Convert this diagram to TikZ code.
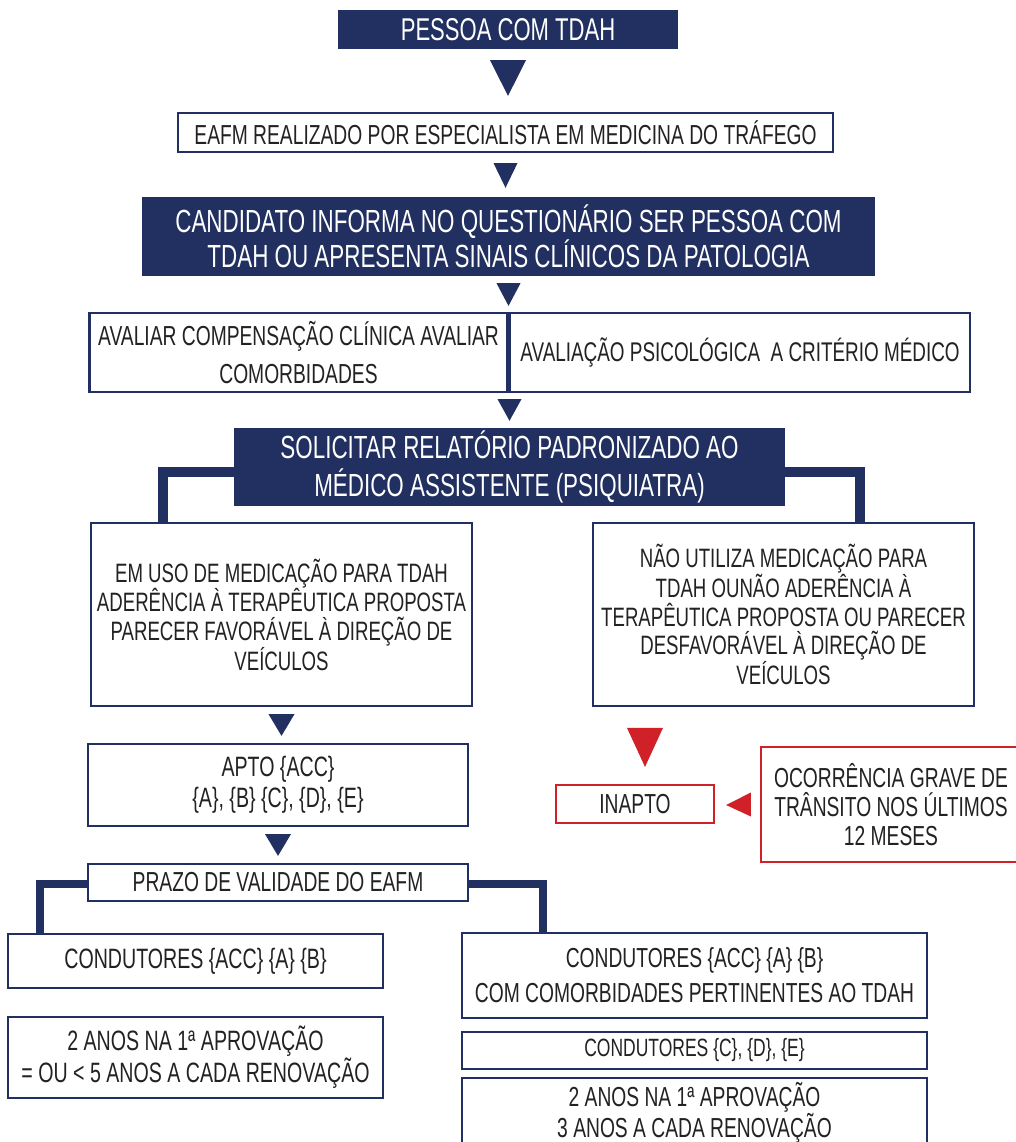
\documentclass[tikz,border=0pt]{standalone}
\usepackage{fontspec}
\setmainfont{Liberation Sans}[FakeStretch=0.70]
\usetikzlibrary{calc,positioning}
\definecolor{navy}{RGB}{33,48,96}
\definecolor{alert}{RGB}{208,32,40}
\definecolor{ink}{RGB}{34,34,34}
\tikzset{
  sz/.style 2 args={minimum width=#1pt,minimum height=#2pt},
  whitebox/.style={draw=navy,line width=2.2pt,fill=white,text=ink,inner sep=0pt,align=center,font=\fontsize{27.5}{28.5}\selectfont},
  navybox/.style={fill=navy,text=white,inner sep=0pt,align=center},
  redbox/.style={whitebox,draw=alert},
  bracket/.style={navy,line width=10pt,line join=miter}
}
\begin{document}
\begin{tikzpicture}[x=1pt,y=-1pt]
\useasboundingbox[fill=white] (0,0) rectangle (1015,1142);
\node[navybox,sz={340}{39},font=\fontsize{31.5}{33}\selectfont] (pessoa) at (508,29.5) {PESSOA COM TDAH};
\node[whitebox,sz={655}{39}] (eafm) at (505.5,132.5) {EAFM REALIZADO POR ESPECIALISTA EM MEDICINA DO TRÁFEGO};
\node[navybox,sz={733}{79},font=\fontsize{32}{33}\selectfont] (candidato) at (508.5,236.5) {CANDIDATO INFORMA NO QUESTIONÁRIO SER PESSOA COM\\TDAH OU APRESENTA SINAIS CLÍNICOS DA PATOLOGIA};
\node[whitebox,sz={418}{79},font=\fontsize{27.5}{38}\selectfont] (aval) at (298.5,352.5) {AVALIAR COMPENSAÇÃO CLÍNICA AVALIAR\\COMORBIDADES};
\node[whitebox,sz={460}{79},font=\fontsize{27}{28.5}\selectfont] (psico) at (740,352.5) {AVALIAÇÃO PSICOLÓGICA\ \ A CRITÉRIO MÉDICO};
\node[navybox,sz={551}{78},font=\fontsize{32}{38}\selectfont] (solicitar) at (509.5,467) {SOLICITAR RELATÓRIO PADRONIZADO AO\\MÉDICO ASSISTENTE (PSIQUIATRA)};
\node[whitebox,sz={381}{183},font=\fontsize{26.6}{28.5}\selectfont] (emuso) at (281.5,614.5) {EM USO DE MEDICAÇÃO PARA TDAH\\ADERÊNCIA À TERAPÊUTICA PROPOSTA\\PARECER FAVORÁVEL À DIREÇÃO DE\\VEÍCULOS};
\node[whitebox,sz={381}{183},font=\fontsize{26.6}{28.5}\selectfont] (nao) at (783.5,614.5) {NÃO UTILIZA MEDICAÇÃO PARA\\TDAH OUNÃO ADERÊNCIA À\\TERAPÊUTICA PROPOSTA OU PARECER\\DESFAVORÁVEL À DIREÇÃO DE\\VEÍCULOS};
\node[whitebox,sz={380}{82},font=\fontsize{28}{31}\selectfont] (apto) at (278,785) {APTO \{ACC\}\\\{A\}, \{B\} \{C\}, \{D\}, \{E\}};
\node[redbox,sz={158}{38}] (inapto) at (635,804) {INAPTO};
\node[redbox,sz={260}{115},font=\fontsize{27.5}{29}\selectfont] (ocorr) at (891,804.5) {OCORRÊNCIA GRAVE DE\\TRÂNSITO NOS ÚLTIMOS\\12 MESES};
\node[whitebox,sz={380}{37}] (prazo) at (278,882.5) {PRAZO DE VALIDADE DO EAFM};
\node[whitebox,sz={375}{54},font=\fontsize{28}{30}\selectfont] (condl) at (195.5,961) {CONDUTORES \{ACC\} \{A\} \{B\}};
\node[whitebox,sz={375}{81},font=\fontsize{28}{32}\selectfont] (anosl) at (195.5,1057.5) {2 ANOS NA 1ª APROVAÇÃO\\= OU < 5 ANOS A CADA RENOVAÇÃO};
\node[whitebox,sz={465}{85},font=\fontsize{27.5}{35}\selectfont] (condr) at (694.5,975.5) {CONDUTORES \{ACC\} \{A\} \{B\}\\COM COMORBIDADES PERTINENTES AO TDAH};
\node[whitebox,sz={465}{37},font=\fontsize{25}{27}\selectfont] (cde) at (694.5,1050.5) {CONDUTORES \{C\}, \{D\}, \{E\}};
\node[whitebox,sz={465}{70},font=\fontsize{27.5}{31}\selectfont] (anosr) at (694.5,1113) {2 ANOS NA 1ª APROVAÇÃO\\3 ANOS A CADA RENOVAÇÃO};
\coordinate (sl) at (163,0);
\coordinate (sr) at (860,0);
\coordinate (pl) at (40,0);
\coordinate (pr) at (543,0);
\draw[bracket] ([yshift=-5pt]solicitar.west) -| (emuso.north -| sl);
\draw[bracket] ([yshift=-5pt]solicitar.east) -| (nao.north -| sr);
\draw[bracket,line width=8pt] ([yshift=-1.5pt]prazo.west) -| (condl.north -| pl);
\draw[bracket,line width=8pt] ([yshift=-1.5pt]prazo.east) -| (condr.north -| pr);
\foreach \a/\b/\w/\t/\h in {pessoa/eafm/18/11/16,eafm/candidato/12/10/9,candidato/aval/12/7/6,emuso/apto/13/7/7,apto/prazo/13/7/7}
{\fill[navy] ($(\a.south)+(-\w,\t)$) -- ($(\a.south)+(\w,\t)$) -- ($(\a.south |- \b.north)+(0,-\h)$) -- cycle;}
\fill[navy] ($(solicitar.north |- aval.south)+(-12,6)$) -- ($(solicitar.north |- aval.south)+(12,6)$) -- ($(solicitar.north)+(0,-7)$) -- cycle;
\fill[alert] ($(inapto.north)+(-8,-56)$) -- ($(inapto.north)+(28,-56)$) -- ($(inapto.north)+(10,-17)$) -- cycle;
\fill[alert] ($(ocorr.west)+(-9,-12)$) -- ($(ocorr.west)+(-9,12)$) -- ($(inapto.east)+(11,1)$) -- cycle;
\end{tikzpicture}
\end{document}
